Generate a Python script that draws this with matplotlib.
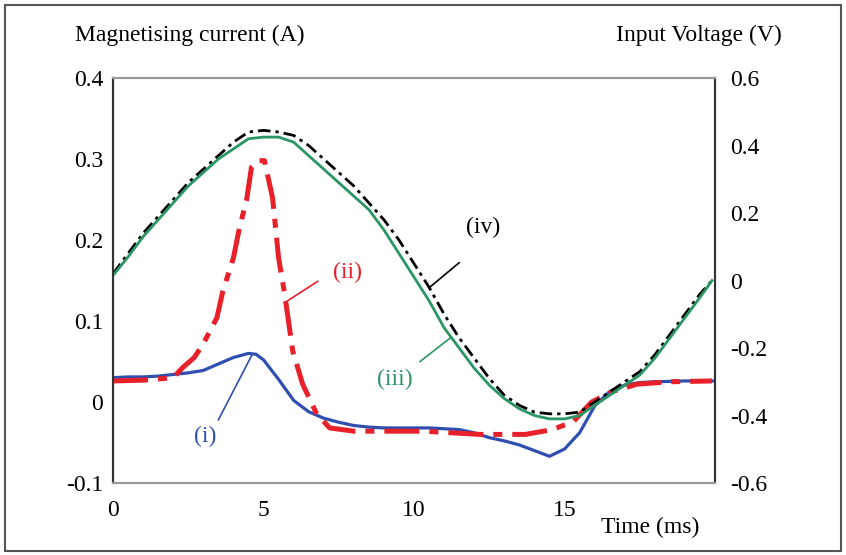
import numpy as np
import matplotlib
matplotlib.use("Agg")
import matplotlib.pyplot as plt
from matplotlib.patches import Rectangle

plt.rcParams["font.family"] = "Liberation Serif"

# ── data ─────────────────────────────────────────────────────────────────────
t = [0, 0.5, 1, 1.5, 2, 2.5, 3, 3.5, 4, 4.5, 5, 5.5, 6, 6.5, 7, 7.5, 8, 8.5,
     9, 9.5, 10, 10.5, 11, 11.5, 12, 12.5, 13, 13.5, 14, 14.5, 15, 15.5, 16,
     16.5, 17, 17.5, 18, 18.5, 19, 19.5, 19.9]

# (iii) input voltage, measured (V)
v_meas = [0.015, 0.07, 0.13, 0.18, 0.23, 0.28, 0.32, 0.36, 0.39, 0.42, 0.425,
          0.425, 0.41, 0.37, 0.33, 0.29, 0.25, 0.21, 0.15, 0.08, 0.01, -0.06,
          -0.14, -0.20, -0.26, -0.31, -0.35, -0.38, -0.40, -0.41, -0.41, -0.40,
          -0.37, -0.34, -0.31, -0.28, -0.23, -0.17, -0.11, -0.05, 0.0]

# (iv) input voltage, model (V)
v_model = [0.02, 0.08, 0.14, 0.19, 0.24, 0.29, 0.33, 0.37, 0.41, 0.44, 0.445,
           0.44, 0.43, 0.40, 0.36, 0.32, 0.28, 0.23, 0.18, 0.12, 0.05, -0.02,
           -0.10, -0.17, -0.23, -0.29, -0.34, -0.37, -0.39, -0.395, -0.395,
           -0.39, -0.36, -0.33, -0.30, -0.27, -0.22, -0.16, -0.10, -0.04, 0.0]

# (i) magnetising current (A)
t_i = [0, 0.5, 1, 1.5, 2, 2.5, 3, 3.5, 4, 4.5, 4.75, 5, 5.5, 6, 6.5, 7, 7.5,
       8, 8.5, 9, 9.5, 10, 10.5, 11, 11.5, 12, 12.5, 13, 13.5, 14, 14.5, 15,
       15.5, 16, 16.5, 17, 17.5, 18, 19, 20]
i_1 = [0.030, 0.031, 0.031, 0.032, 0.034, 0.036, 0.039, 0.047, 0.055, 0.060,
       0.059, 0.052, 0.028, 0.002, -0.012, -0.020, -0.025, -0.029, -0.031,
       -0.032, -0.032, -0.032, -0.032, -0.033, -0.034, -0.038, -0.044, -0.048,
       -0.053, -0.060, -0.067, -0.058, -0.038, -0.005, 0.013, 0.021, 0.024,
       0.025, 0.026, 0.026]

# (ii) magnetising current (A)
t_ii = [0, 1, 2, 2.3, 2.7, 3.0, 3.45, 3.65, 4.0, 4.2, 4.44, 4.6, 4.8, 5.03,
        5.3, 5.5, 5.7, 5.97, 6.3, 6.77, 7.2, 8.0, 10.3, 12.2, 13.7, 14.6,
        15.3, 15.9, 16.6, 17.4, 18.5, 19.9]
i_2 = [0.026, 0.027, 0.030, 0.042, 0.055, 0.072, 0.104, 0.137, 0.178, 0.215,
       0.250, 0.290, 0.298, 0.298, 0.252, 0.178, 0.134, 0.063, 0.022, -0.015,
       -0.032, -0.036, -0.036, -0.040, -0.040, -0.034, -0.024, 0.0, 0.013,
       0.022, 0.025, 0.026]

x_ticks = [0, 5, 10, 15]
left_ticks = [-0.1, 0, 0.1, 0.2, 0.3, 0.4]
left_labels = ["-0.1", "0", "0.1", "0.2", "0.3", "0.4"]
right_ticks = [-0.6, -0.4, -0.2, 0, 0.2, 0.4, 0.6]
right_labels = ["-0.6", "-0.4", "-0.2", "0", "0.2", "0.4", "0.6"]

BLUE = "#2f4fb0"
RED = "#e8202a"
GREEN = "#2a9663"
FS = 17

fig = plt.figure(figsize=(8.46, 5.55), dpi=100)
ax = fig.add_axes([0.1336, 0.1297, 0.7116, 0.7297])
ax2 = ax.twinx()

ax.plot(t_i, i_1, color=BLUE, lw=2.3, zorder=3)
ax.plot(t_ii, i_2, color=RED, lw=3.6, dashes=(7, 2, 1.8, 2), zorder=4)
ax2.plot(t, v_model, color="black", lw=2.0, dashes=(4.5, 1.8, 1.2, 1.8))
ax2.plot(t, v_meas, color=GREEN, lw=2.0)

ax.set_xlim(0, 20)
ax.set_ylim(-0.1, 0.4)
ax2.set_ylim(-0.6, 0.6)

ax.set_xticks(x_ticks)
ax.set_xticklabels([str(v) for v in x_ticks])
ax.set_yticks(left_ticks)
ax.set_yticklabels(left_labels)
ax2.set_yticks(right_ticks)
ax2.set_yticklabels(right_labels)

ax.tick_params(axis="x", length=0, pad=12, labelsize=FS)
ax.tick_params(axis="y", length=0, pad=7, labelsize=FS)
ax2.tick_params(axis="y", length=0, pad=11, labelsize=FS)

for a in (ax, ax2):
    a.spines["top"].set_color("#9a9a9a")
    a.spines["bottom"].set_color("#9a9a9a")
    a.spines["left"].set_color("#333333")
    a.spines["right"].set_color("#333333")
    for s in a.spines.values():
        s.set_linewidth(1.5)

# axis titles
fig.text(75 / 846, 1 - 35 / 555, "Magnetising current (A)", fontsize=FS,
         ha="left", va="center")
fig.text(782 / 846, 1 - 35 / 555, "Input Voltage (V)", fontsize=FS,
         ha="right", va="center")
fig.text(650 / 846, 1 - 527 / 555, "Time (ms)", fontsize=FS,
         ha="center", va="center")

# curve labels with leader lines (data coords of the left axis)
ax.text(12.3, 0.215, "(iv)", color="black", fontsize=FS, ha="center", va="center")
ax.plot([11.5, 10.5], [0.172, 0.141], color="black", lw=1.2)
ax.text(7.8, 0.16, "(ii)", color=RED, fontsize=FS, ha="center", va="center")
ax.plot([6.8, 5.8], [0.149, 0.125], color=RED, lw=1.2)
ax.text(9.35, 0.028, "(iii)", color=GREEN, fontsize=FS, ha="center", va="center")
ax.plot([10.2, 11.2], [0.05, 0.079], color=GREEN, lw=1.2)
ax.text(3.05, -0.043, "(i)", color=BLUE, fontsize=FS, ha="center", va="center")
ax.plot([3.5, 4.6], [-0.022, 0.057], color=BLUE, lw=1.2)

# outer frame
fig.patches.append(Rectangle((5 / 846, 4 / 555), 836 / 846, 546 / 555,
                             transform=fig.transFigure, fill=False,
                             edgecolor="#555555", lw=1.5))

fig.savefig("out.png", dpi=100)
